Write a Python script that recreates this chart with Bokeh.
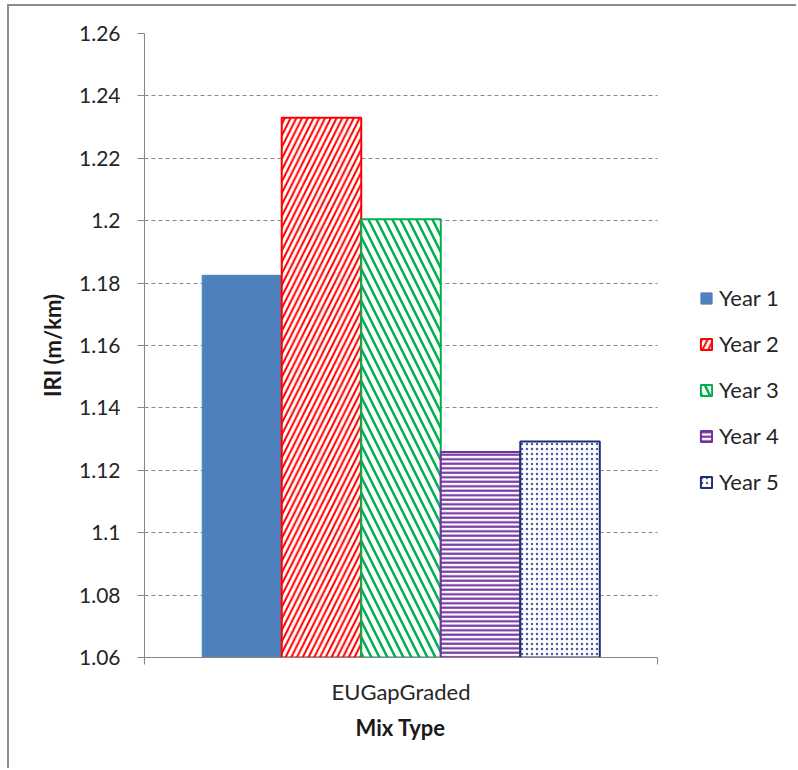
from bokeh.plotting import figure
from bokeh.models import (ColumnDataSource, Range1d, Legend, LegendItem, Title,
                          FixedTicker, CustomJSTickFormatter)
from bokeh.transform import dodge
from bokeh.embed import file_html
from bokeh.resources import INLINE

# ---- data ----
mix_types = ["EUGapGraded"]
years = ["Year 1", "Year 2", "Year 3", "Year 4", "Year 5"]
year1 = [1.1825]
year2 = [1.2330]
year3 = [1.2005]
year4 = [1.1259]
year5 = [1.1292]
y_ticks = [1.06, 1.08, 1.10, 1.12, 1.14, 1.16, 1.18, 1.20, 1.22, 1.24, 1.26]
y_start, y_end = 1.06, 1.26
x_title = "Mix Type"
y_title = "IRI (m/km)"

series = [year1, year2, year3, year4, year5]

# ---- layout / styles ----
PAD_L, PAD_T = 9, 6                 # where the canvas begins (after css margin+border)
W, H = 798 - PAD_L, 770 - PAD_T
frame_left, frame_top, frame_bottom = 144 - PAD_L, 33 - PAD_T, 770 - 657
cat_px = 513.0                       # pixel width of one category
x_end = (W - frame_left) / cat_px    # frame runs to the right edge (legend lives inside)

offsets = [-0.31, -0.155, 0.0, 0.155, 0.31]
bar_w = 0.155
styles = [
    dict(fill_color="#4F81BD", line_color="#4F81BD", line_width=1),
    dict(fill_color="white", line_color="#FF0000", line_width=2, hatch_pattern="/",
         hatch_color="#FF0000", hatch_scale=11.5, hatch_weight=2),
    dict(fill_color="white", line_color="#00B050", line_width=2, hatch_pattern="\\",
         hatch_color="#00B050", hatch_scale=16, hatch_weight=2.5),
    dict(fill_color="white", line_color="#7030A0", line_width=2, hatch_pattern="-",
         hatch_color="#7030A0", hatch_scale=4.5, hatch_weight=2.1),
    dict(fill_color="white", line_color="#1F2F6E", line_width=2, hatch_pattern=".",
         hatch_color="#4A5CA8", hatch_scale=5, hatch_weight=1.2),
]

p = figure(x_range=Range1d(0, x_end), y_range=Range1d(y_start, y_end),
           width=W, height=H, output_backend="svg", toolbar_location=None,
           min_border_left=frame_left, min_border_right=0, min_border_top=frame_top,
           min_border_bottom=frame_bottom)

cat_pos = [i + 0.5 for i in range(len(mix_types))]
data = {"pos": cat_pos}
for name, vals in zip(years, series):
    data[name] = vals
data["base"] = [y_start] * len(mix_types)
src = ColumnDataSource(data)

items = []
for name, off, st in zip(years, offsets, styles):
    r = p.vbar(x=dodge("pos", off), top=name, bottom="base",
               width=bar_w, source=src, **st)
    items.append(LegendItem(label=name, renderers=[r]))

legend = Legend(items=items, location=(555, 162), orientation="vertical",
                glyph_width=14, glyph_height=14, label_standoff=6, spacing=19,
                padding=0, margin=0, border_line_color=None,
                background_fill_alpha=0, label_text_font="Lato",
                label_text_font_size="22px", label_text_color="#262626")
p.add_layout(legend, "center")

p.outline_line_color = None
p.background_fill_color = "white"
p.border_fill_color = "white"

# y axis
p.yaxis.ticker = FixedTicker(ticks=y_ticks)
p.yaxis.formatter = CustomJSTickFormatter(code="return String(Number(tick.toFixed(2)));")
p.yaxis.axis_line_color = "#868686"
p.yaxis.major_tick_line_color = "#868686"
p.yaxis.major_tick_out = 7
p.yaxis.major_tick_in = 0
p.yaxis.minor_tick_line_color = None
p.yaxis.major_label_standoff = 17
p.yaxis.major_label_text_font = "Lato"
p.yaxis.major_label_text_font_size = "21px"
p.yaxis.major_label_text_color = "#262626"
p.yaxis.axis_label = y_title
p.yaxis.axis_label_text_font = "Lato"
p.yaxis.axis_label_text_font_style = "bold"
p.yaxis.axis_label_text_font_size = "22px"
p.yaxis.axis_label_text_color = "#1a1a1a"
p.yaxis.axis_label_standoff = 10

# x axis (one category spanning 0..1)
p.xaxis.bounds = (0, len(mix_types))
p.xaxis.ticker = FixedTicker(ticks=cat_pos, minor_ticks=list(range(len(mix_types) + 1)))
p.xaxis.major_label_overrides = {pos: name for pos, name in zip(cat_pos, mix_types)}
p.xaxis.axis_line_color = "#868686"
p.xaxis.major_tick_line_color = None
p.xaxis.major_tick_out = 0
p.xaxis.minor_tick_line_color = "#868686"
p.xaxis.minor_tick_out = 7
p.xaxis.minor_tick_in = 0
p.xaxis.major_label_standoff = 13
p.xaxis.major_label_text_font = "Lato"
p.xaxis.major_label_text_font_size = "22px"
p.xaxis.major_label_text_color = "#262626"

# x axis title, centred under the category span (not under the whole frame)
p.add_layout(Title(text=x_title, align="left", offset=211, standoff=8,
                   text_font="Lato", text_font_style="bold", text_font_size="22px",
                   text_color="#1a1a1a"), "below")

# grid
p.xgrid.grid_line_color = None
p.ygrid.grid_line_color = "#8a8a8a"
p.ygrid.grid_line_dash = "4 3"
p.ygrid.grid_line_width = 1
p.ygrid.cross_bounds = (0, len(mix_types))

# outer chart frame (left and top edges)
p.styles = {"margin-left": "7px", "margin-top": "4px",
            "border-left": "2px solid #8c8c8c", "border-top": "2px solid #8c8c8c"}

open("out.html", "w").write(file_html(p, INLINE))
